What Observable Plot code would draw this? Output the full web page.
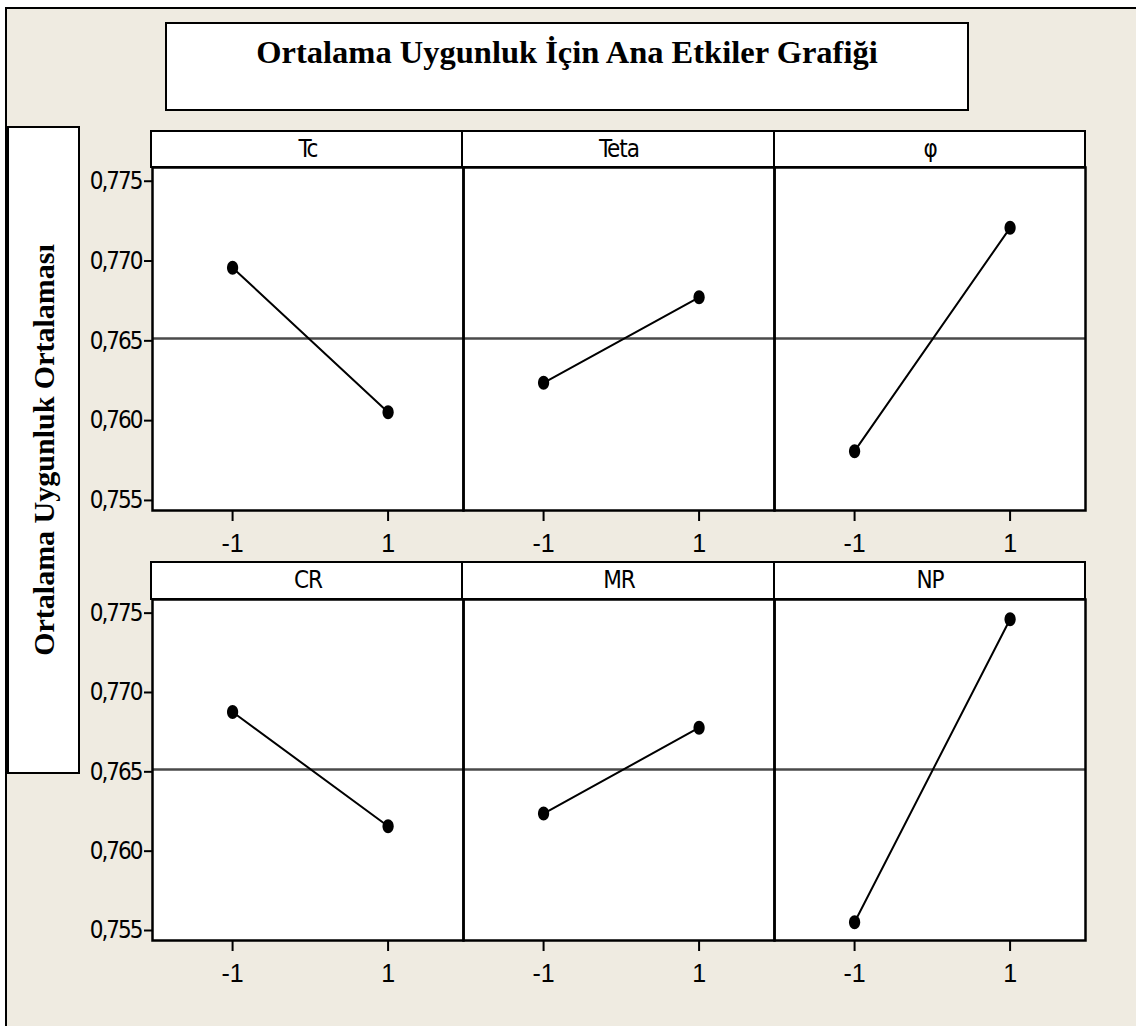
<!DOCTYPE html>
<html>
<head>
<meta charset="utf-8">
<script src="https://cdn.jsdelivr.net/npm/d3@7"></script>
<script src="https://cdn.jsdelivr.net/npm/@observablehq/plot@0.6"></script>
<style>
  html, body { margin: 0; padding: 0; background: #ffffff; }
  #page { position: relative; width: 1136px; height: 1026px; overflow: hidden; }
  .abs { position: absolute; box-sizing: border-box; }
  #frame { left: 5px; top: 7px; width: 1200px; height: 1100px; background: #EFEBE1; border-left: 2.5px solid #000; border-top: 2.5px solid #000; }
  #titleBox { left: 165px; top: 22px; width: 804px; height: 89px; background: #fff; border: 2.5px solid #000; }
  #title { left: 165px; top: 36px; width: 804px; text-align: center; font-family: "Liberation Serif", "Times New Roman", serif; font-weight: bold; font-size: 32.5px; line-height: 32px; color: #000; white-space: nowrap; }
  #ylabBox { left: 7px; top: 126px; width: 73px; height: 648px; background: #fff; border: 2.5px solid #000; }
  #ylab { left: 44px; top: 450px; transform: translate(-50%, -50%) rotate(-90deg); font-family: "Liberation Serif", "Times New Roman", serif; font-weight: bold; font-size: 30px; line-height: 30px; white-space: nowrap; color: #000; }
  .hdr { background: #fff; border: 2.5px solid #000; }
  .plotrow { position: absolute; }
  g[aria-label="y-axis tick label"] text { letter-spacing: -2px; }
  g[aria-label="text"] text { letter-spacing: -1px; }
</style>
</head>
<body>
<div id="page">
  <div id="frame" class="abs"></div>
  <div id="titleBox" class="abs"></div>
  <div id="title" class="abs">Ortalama Uygunluk İçin Ana Etkiler Grafiği</div>
  <div id="ylabBox" class="abs"></div>
  <div id="ylab" class="abs">Ortalama Uygunluk Ortalaması</div>
</div>
<script>
// ---- data ----
const topFactors = ["Tc", "Teta", "φ"];
const bottomFactors = ["CR", "MR", "NP"];
const levels = [-1, 1];
const tcMeans = [0.76958, 0.76053];
const tetaMeans = [0.76237, 0.76773];
const phiMeans = [0.75809, 0.77208];
const crMeans = [0.76877, 0.76157];
const mrMeans = [0.76237, 0.76778];
const npMeans = [0.75552, 0.77462];
const grandMean = 0.76515;
const yTicks = [0.755, 0.760, 0.765, 0.770, 0.775];
const xTicks = [-1, 1];

// ---- layout ----
const yDomain = [0.75437, 0.77586];
const xDomain = [-2.03, 1.97];
const ML = 100, MR = 31, MT = 40, MB = 60;
const plotLeft = 151, plotWidth = 934;
const W = ML + plotWidth + MR;
const narrow = "'Liberation Sans Narrow', 'DejaVu Sans Condensed', 'Liberation Sans', sans-serif";
const regular = "'Liberation Sans', Arial, sans-serif";

const ellipse = {
  draw(ctx, size) {
    const r = Math.sqrt(size / Math.PI);
    const ry = r, rx = r * 0.8, k = 0.5523;
    ctx.moveTo(rx, 0);
    ctx.bezierCurveTo(rx, ry * k, rx * k, ry, 0, ry);
    ctx.bezierCurveTo(-rx * k, ry, -rx, ry * k, -rx, 0);
    ctx.bezierCurveTo(-rx, -ry * k, -rx * k, -ry, 0, -ry);
    ctx.bezierCurveTo(rx * k, -ry, rx, -ry * k, rx, 0);
    ctx.closePath();
  }
};

const page = document.getElementById("page");

function makeRow(factors, series, plotTop, plotHeight, headerTop) {
  const colW = plotWidth / factors.length;
  factors.forEach((f, i) => {
    const d = document.createElement("div");
    d.className = "abs hdr";
    d.style.left = (plotLeft + i * colW - 1) + "px";
    d.style.top = headerTop + "px";
    d.style.width = (colW + 2) + "px";
    d.style.height = (plotTop - headerTop + 1) + "px";
    page.appendChild(d);
  });
  const data = factors.flatMap((f, i) => levels.map((l, j) => ({factor: f, level: l, mean: series[i][j]})));
  const chart = Plot.plot({
    width: W,
    height: MT + plotHeight + MB,
    marginLeft: ML, marginRight: MR, marginTop: MT, marginBottom: MB,
    style: {background: "transparent", overflow: "visible", color: "#000"},
    fx: {domain: factors, padding: 0, axis: null},
    x: {domain: xDomain},
    y: {domain: yDomain},
    marks: [
      Plot.frame({fill: "white"}),
      Plot.ruleY([grandMean], {stroke: "#4a4a4a", strokeWidth: 2.5}),
      Plot.line(data, {fx: "factor", x: "level", y: "mean", stroke: "black", strokeWidth: 2}),
      Plot.dot(data, {fx: "factor", x: "level", y: "mean", r: 7, fill: "black", symbol: ellipse}),
      Plot.text(factors, {fx: d => d, text: d => d, frameAnchor: "top", dy: -(plotTop - headerTop) / 2, lineAnchor: "middle", fontSize: 24, fontFamily: narrow, fill: "black"}),
      Plot.frame({stroke: "black", strokeWidth: 2.5}),
      Plot.axisY(yTicks, {tickSize: 8, tickPadding: 3, strokeWidth: 2, label: null,
        tickFormat: d => d.toFixed(3).replace(".", ","), fontSize: 24, fontFamily: narrow}),
      Plot.axisX(xTicks, {tickSize: 11, tickPadding: 13, strokeWidth: 2, label: null,
        tickFormat: d => String(d), fontSize: 25, fontFamily: regular})
    ]
  });
  chart.classList.add("plotrow");
  chart.style.left = (plotLeft - ML) + "px";
  chart.style.top = (plotTop - MT) + "px";
  page.appendChild(chart);
}

makeRow(topFactors, [tcMeans, tetaMeans, phiMeans], 167, 343, 130);
makeRow(bottomFactors, [crMeans, mrMeans, npMeans], 599, 341, 561);
</script>
</body>
</html>
